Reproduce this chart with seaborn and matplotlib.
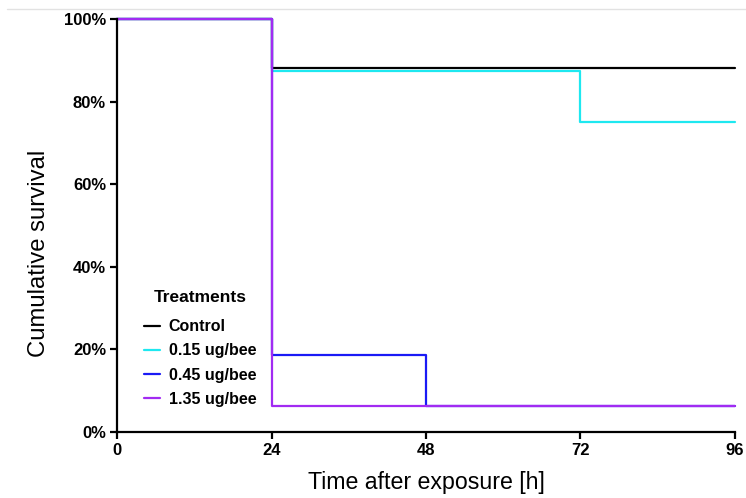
import matplotlib
matplotlib.use("Agg")
import matplotlib.pyplot as plt
import matplotlib.lines as mlines
import seaborn as sns
import pandas as pd

times = [0, 24, 48, 72, 96]
treatments = ["Control", "0.15 ug/bee", "0.45 ug/bee", "1.35 ug/bee"]
control = [100, 88.2, 88.2, 88.2, 88.2]
dose_015 = [100, 87.5, 87.5, 75, 75]
dose_045 = [100, 18.75, 6.25, 6.25, 6.25]
dose_135 = [100, 6.25, 6.25, 6.25, 6.25]
colors = ["#000000", "#1EE8F0", "#1A1AF5", "#A22BF2"]

series = [control, dose_015, dose_045, dose_135]
rows = []
for name, vals in zip(treatments, series):
    for t, v in zip(times, vals):
        rows.append({"time": t, "survival": v, "Treatments": name})
df = pd.DataFrame(rows)

sns.set_style("ticks")
plt.rcParams["font.family"] = ["Liberation Sans", "DejaVu Sans"]
plt.rcParams["text.color"] = "black"
plt.rcParams["axes.labelcolor"] = "black"
plt.rcParams["xtick.color"] = "black"
plt.rcParams["ytick.color"] = "black"

fig = plt.figure(figsize=(7.46, 4.98), dpi=100)
ax = fig.add_axes([0.157, 0.1325, 0.828, 0.8295])

sns.lineplot(data=df, x="time", y="survival", hue="Treatments",
             hue_order=treatments, palette=dict(zip(treatments, colors)),
             drawstyle="steps-post", estimator=None, linewidth=1.6,
             ax=ax, clip_on=False)

ax.set_xlim(0, 96)
ax.set_ylim(0, 100)
ax.set_xticks(times)
ax.set_yticks([0, 20, 40, 60, 80, 100])
ax.set_yticklabels([f"{v}%" for v in [0, 20, 40, 60, 80, 100]])
for lab in ax.get_xticklabels() + ax.get_yticklabels():
    lab.set_fontweight("bold")
    lab.set_fontsize(12)
    lab.set_color("black")
ax.tick_params(axis="both", width=1.6, length=5, color="black", pad=3)
for s in ["left", "bottom"]:
    ax.spines[s].set_linewidth(1.6)
    ax.spines[s].set_color("black")
sns.despine(ax=ax)

ax.set_xlabel("Time after exposure [h]", fontsize=16.7, labelpad=9, color="black")
ax.set_ylabel("Cumulative survival", fontsize=17.2, color="black")
ax.yaxis.set_label_coords(-0.108, 0.433)

leg = ax.legend(title="Treatments", frameon=False, loc="lower left",
                bbox_to_anchor=(0.02, 0.026), handlelength=1.0,
                handletextpad=0.55, labelspacing=0.58,
                prop={"weight": "bold", "size": 11.5})
leg.get_title().set_fontweight("bold")
leg.get_title().set_fontsize(12.5)
leg.get_title().set_color("black")
for t in leg.get_texts():
    t.set_color("black")
leg._legend_box.sep = 10.5

fig.add_artist(mlines.Line2D([7 / 746, 1], [1 - 9 / 498, 1 - 9 / 498],
                             color="#e2e2e2", linewidth=1))

fig.savefig("out.png", dpi=100)
